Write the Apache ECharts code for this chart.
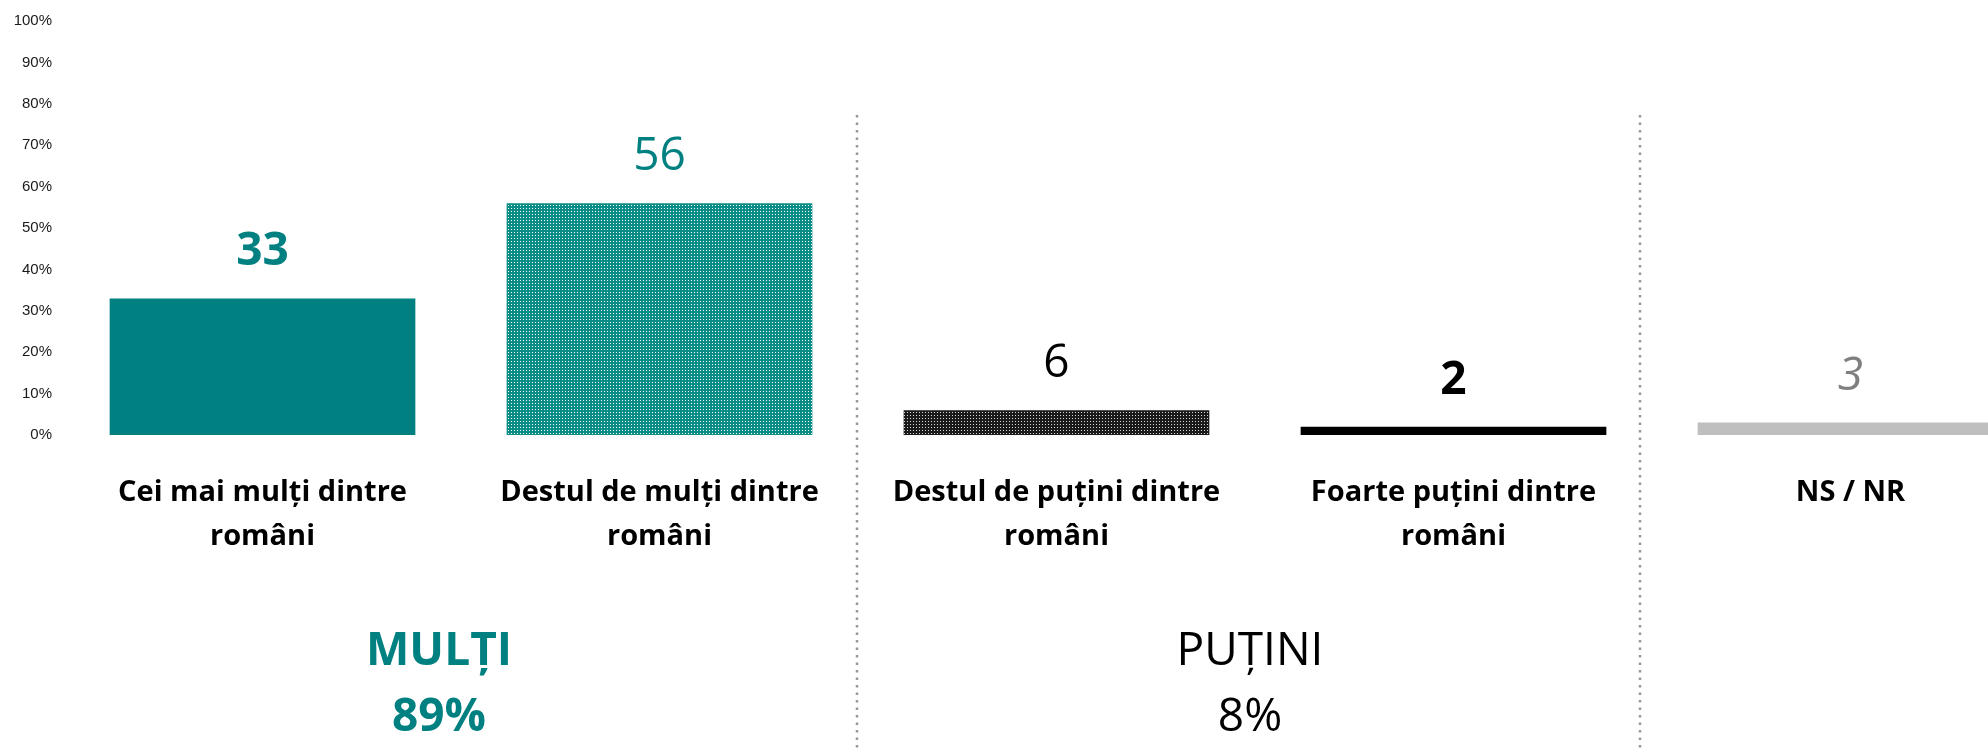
<!DOCTYPE html>
<html>
<head>
<meta charset="utf-8">
<script src="https://cdn.jsdelivr.net/npm/echarts@6/dist/echarts.min.js"></script>
<style>
html, body { margin: 0; padding: 0; background: #fff; overflow: hidden; }
/* graficul original e taiat in dreapta, deci containerul e mai lat decat fereastra */
#chart { width: 2050px; height: 748px; }
</style>
</head>
<body>
<div id="chart"></div>
<script>
// date
const categories = [
    'Cei mai mulți dintre\nromâni',
    'Destul de mulți dintre\nromâni',
    'Destul de puțini dintre\nromâni',
    'Foarte puțini dintre\nromâni',
    'NS / NR'
]
const values = [33, 56, 6, 2, 3]
const groupNames = ['MULȚI', 'PUȚINI']
const groupTotals = [89, 8]

// pattern mic cu puncte (ca hasura din Excel)
function dotPattern(bg, dot) {
    const c = document.createElement('canvas')
    c.width = 3
    c.height = 3
    const ctx = c.getContext('2d')
    ctx.fillStyle = bg
    ctx.fillRect(0, 0, 3, 3)
    ctx.fillStyle = dot
    ctx.fillRect(1, 1, 1, 1)
    return c
}

const barColors = [
    '#008080',
    { image: dotPattern('#0a8c87', '#ffffff'), repeat: 'repeat' },
    { image: dotPattern('#1a1a1a', '#d9d9d9'), repeat: 'repeat' },
    '#000000',
    '#bfbfbf'
]
const labelStyles = [
    { color: '#008080', fontWeight: 'bold' },
    { color: '#008080', fontWeight: 'normal' },
    { color: '#000000', fontWeight: 'normal' },
    { color: '#000000', fontWeight: 'bold' },
    { color: '#7f7f7f', fontWeight: 'normal', fontStyle: 'italic' }
]
const groupStyles = [
    { x: 439, fill: '#008080', fontWeight: 'bold' },
    { x: 1250, fill: '#000000', fontWeight: 'normal' }
]
const separatorsX = [857, 1640]

const chart = echarts.init(document.getElementById('chart'))

const graphics = []
separatorsX.forEach(x => {
    graphics.push({
        type: 'line',
        shape: { x1: x, y1: 115, x2: x, y2: 748 },
        style: { stroke: '#999999', lineWidth: 2.5, lineDash: [2.5, 5] },
        silent: true
    })
})
groupNames.forEach((name, i) => {
    graphics.push({
        type: 'text',
        x: groupStyles[i].x,
        y: 685,
        style: {
            text: name + '\n' + groupTotals[i] + '%',
            fill: groupStyles[i].fill,
            fontSize: 46,
            fontWeight: groupStyles[i].fontWeight,
            fontFamily: 'Open Sans',
            lineHeight: 66,
            align: 'center',
            verticalAlign: 'middle'
        }
    })
})

chart.setOption({
    animation: false,
    grid: {
        left: 64,
        top: 21,
        bottom: 313,
        right: 1
    },
    xAxis: {
        type: 'category',
        data: categories,
        axisLine: { show: false },
        axisTick: { show: false },
        axisLabel: {
            interval: 0,
            margin: 36,
            color: '#000',
            fontFamily: 'Open Sans',
            fontWeight: 'bold',
            fontSize: 29,
            lineHeight: 44
        }
    },
    yAxis: {
        type: 'value',
        min: 0,
        max: 100,
        interval: 10,
        splitLine: { show: false },
        axisLine: { show: false },
        axisTick: { show: false },
        axisLabel: {
            formatter: '{value}%',
            margin: 12,
            color: '#1a1a1a',
            fontFamily: 'Liberation Sans',
            fontSize: 15
        }
    },
    series: [{
        type: 'bar',
        barWidth: '77%',
        data: values.map((v, i) => ({
            value: v,
            itemStyle: { color: barColors[i] },
            label: Object.assign({}, labelStyles[i])
        })),
        label: {
            show: true,
            position: 'top',
            distance: 23,
            fontFamily: 'Open Sans',
            fontSize: 46
        }
    }],
    graphic: graphics
})
</script>
</body>
</html>
